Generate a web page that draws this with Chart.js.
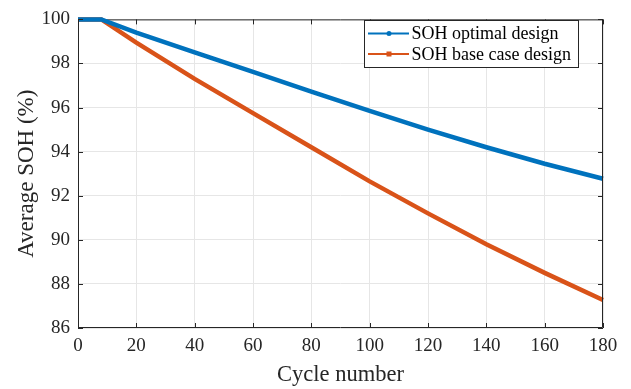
<!DOCTYPE html>
<html>
<head>
<meta charset="utf-8">
<script src="https://cdn.jsdelivr.net/npm/chart.js@4.4.1/dist/chart.umd.min.js"></script>
<style>
  html, body { margin: 0; padding: 0; background: #fff; }
  #wrap { width: 631px; height: 389px; }
</style>
</head>
<body>
<div id="wrap"><canvas id="soh"></canvas></div>
<script>
const cycles = [0, 8, 20, 40, 60, 80, 100, 120, 140, 160, 180];
const sohOptimal = [100, 100, 99.4, 98.5, 97.62, 96.72, 95.85, 95.0, 94.2, 93.45, 92.77];
const sohBase = [100, 100, 98.95, 97.3, 95.75, 94.2, 92.65, 91.2, 89.8, 88.5, 87.27];
const xTicks = [0, 20, 40, 60, 80, 100, 120, 140, 160, 180];
const yTicks = [86, 88, 90, 92, 94, 96, 98, 100];
const seriesNames = ['SOH optimal design', 'SOH base case design'];

const BLUE = '#0072BD';
const ORANGE = '#D95319';
const AXIS = '#262626';
const SERIF = "'Liberation Serif', 'Times New Roman', serif";

function pts(ys) {
  return cycles.map((c, i) => ({ x: c, y: ys[i] }));
}

// box around plot + inward ticks, matlab style
const frame = {
  id: 'frame',
  afterDatasetsDraw(chart) {
    const { ctx, chartArea: a, scales } = chart;
    ctx.save();
    ctx.strokeStyle = AXIS;
    ctx.lineWidth = 1;
    ctx.beginPath();
    ctx.moveTo(a.left + 0.5, a.top);
    ctx.lineTo(a.left + 0.5, a.bottom - 0.5);
    ctx.lineTo(a.right - 0.5, a.bottom - 0.5);
    ctx.lineTo(a.right - 0.5, a.top);
    xTicks.forEach(t => {
      const x = Math.round(scales.x.getPixelForValue(t)) + 0.5;
      ctx.moveTo(x, a.bottom); ctx.lineTo(x, a.bottom - 5);
      ctx.moveTo(x, a.top); ctx.lineTo(x, a.top + 5);
    });
    yTicks.forEach(t => {
      const y = Math.round(scales.y.getPixelForValue(t)) + 0.5;
      ctx.moveTo(a.left, y); ctx.lineTo(a.left + 5, y);
      ctx.moveTo(a.right, y); ctx.lineTo(a.right - 5, y);
    });
    ctx.stroke();
    ctx.restore();
  },
  beforeDatasetsDraw(chart) {
    // top edge goes under the lines
    const { ctx, chartArea: a } = chart;
    ctx.save();
    ctx.strokeStyle = AXIS;
    ctx.lineWidth = 1;
    ctx.beginPath();
    ctx.moveTo(a.left, a.top + 0.5);
    ctx.lineTo(a.right, a.top + 0.5);
    ctx.stroke();
    ctx.restore();
  }
};

const legendBox = {
  id: 'legendBox',
  afterDraw(chart) {
    const { ctx } = chart;
    const left = 364, top = 20, w = 214, h = 47;
    ctx.save();
    ctx.fillStyle = '#fff';
    ctx.fillRect(left, top, w, h);
    ctx.strokeStyle = AXIS;
    ctx.lineWidth = 1;
    ctx.strokeRect(left + 0.5, top + 0.5, w, h);
    const rows = [
      { y: 33.5, color: BLUE, square: false },
      { y: 54, color: ORANGE, square: true }
    ];
    rows.forEach((r, i) => {
      ctx.strokeStyle = r.color;
      ctx.lineWidth = 2;
      ctx.beginPath();
      ctx.moveTo(368, r.y); ctx.lineTo(409, r.y);
      ctx.stroke();
      ctx.fillStyle = r.color;
      if (r.square) {
        ctx.fillRect(386.5, r.y - 2.5, 5, 5);
      } else {
        ctx.beginPath();
        ctx.arc(389, r.y, 2.5, 0, Math.PI * 2);
        ctx.fill();
      }
      ctx.fillStyle = '#000';
      ctx.font = '18px ' + SERIF;
      ctx.textBaseline = 'middle';
      ctx.fillText(seriesNames[i], 411.5, r.y + 1);
    });
    ctx.restore();
  }
};

new Chart(document.getElementById('soh'), {
  type: 'line',
  data: {
    datasets: [
      {
        label: seriesNames[0],
        data: pts(sohOptimal),
        borderColor: BLUE,
        backgroundColor: BLUE,
        borderWidth: 4.5,
        pointRadius: 0,
        tension: 0,
        clip: 4
      },
      {
        label: seriesNames[1],
        data: pts(sohBase),
        borderColor: ORANGE,
        backgroundColor: ORANGE,
        borderWidth: 4.5,
        pointRadius: 0,
        tension: 0,
        clip: 4
      }
    ]
  },
  options: {
    responsive: true,
    maintainAspectRatio: false,
    animation: false,
    layout: { padding: { left: 0, right: 28, top: 11, bottom: 0 } },
    plugins: {
      legend: { display: false },
      tooltip: { enabled: false }
    },
    scales: {
      x: {
        type: 'linear',
        min: 0, max: 180,
        afterBuildTicks(axis) { axis.ticks = xTicks.map(v => ({ value: v })); },
        afterFit(axis) { axis.height = 61; },
        grid: { color: '#e6e6e6', drawTicks: false },
        border: { display: false },
        ticks: {
          color: AXIS,
          padding: 7,
          maxRotation: 0,
          font: { family: SERIF, size: 19 }
        },
        title: {
          display: true,
          text: 'Cycle number',
          color: AXIS,
          padding: { top: 0, bottom: 0 },
          font: { family: SERIF, size: 22.5 }
        }
      },
      y: {
        min: 86, max: 100,
        afterBuildTicks(axis) { axis.ticks = yTicks.map(v => ({ value: v })); },
        afterFit(axis) { axis.width = 78; },
        grid: { color: '#e6e6e6', drawTicks: false },
        border: { display: false },
        ticks: {
          color: AXIS,
          padding: 8,
          font: { family: SERIF, size: 19 }
        },
        title: {
          display: true,
          text: 'Average SOH (%)',
          color: AXIS,
          padding: { top: 13, bottom: 4 },
          font: { family: SERIF, size: 23 }
        }
      }
    }
  },
  plugins: [frame, legendBox]
});
</script>
</body>
</html>
